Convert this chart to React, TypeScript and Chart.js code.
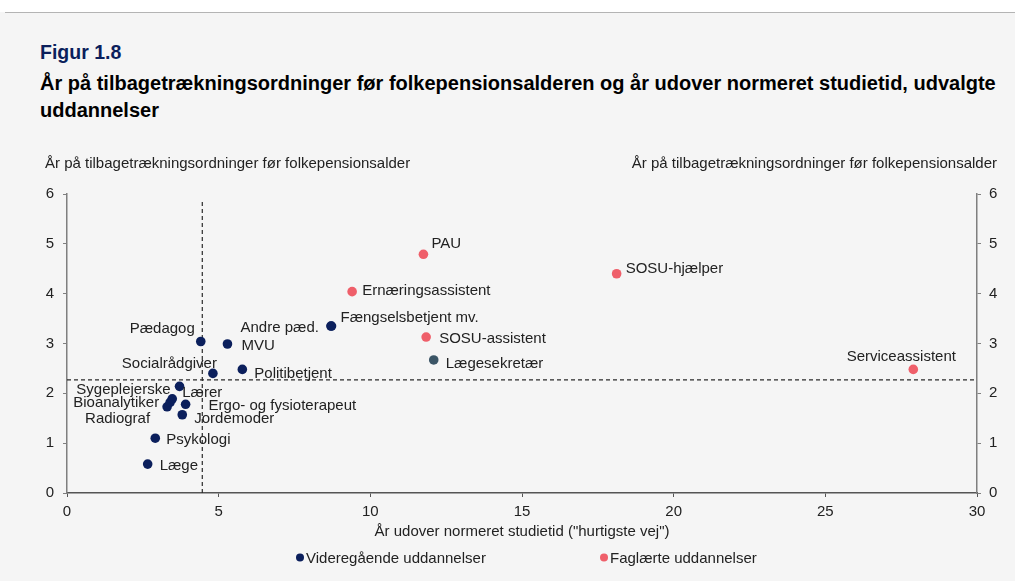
import React, { useEffect, useRef } from "react";
import { Chart, registerables } from "chart.js";

Chart.register(...registerables);

// ---------- data ----------
const vidNames = [
  "Læge", "Psykologi", "Radiograf", "Bioanalytiker", "Lærer", "Sygeplejerske",
  "Ergo- og fysioterapeut", "Jordemoder", "Pædagog", "MVU", "Socialrådgiver",
  "Politibetjent", "Andre pæd.", "Fængselsbetjent mv.", "Lægesekretær",
];
const vidX = [2.66, 2.91, 3.3, 3.4, 3.47, 3.71, 3.91, 3.8, 4.41, 5.29, 4.81, 5.78, 8.7, 8.72, 12.09];
const vidY = [0.58, 1.1, 1.73, 1.82, 1.89, 2.14, 1.78, 1.57, 3.04, 2.99, 2.4, 2.48, 3.35, 3.35, 2.67];

const fagNames = ["PAU", "Ernæringsassistent", "SOSU-assistent", "SOSU-hjælper", "Serviceassistent"];
const fagX = [11.75, 9.4, 11.84, 18.12, 27.9];
const fagY = [4.79, 4.04, 3.13, 4.4, 2.48];

const vLineX = [4.46, 4.46];
const vLineY = [0, 5.88];
const hLineX = [0, 30];
const hLineY = [2.27, 2.27];

const xTicks = [0, 5, 10, 15, 20, 25, 30];
const yTicks = [0, 1, 2, 3, 4, 5, 6];

const seriesNames = ["Videregående uddannelser", "Faglærte uddannelser"];
const titleText = "Figur 1.8";
const subtitleText =
  "År på tilbagetrækningsordninger før folkepensionsalderen og år udover normeret studietid, udvalgte uddannelser";
const yTitle = "År på tilbagetrækningsordninger før folkepensionsalder";
const xTitle = 'År udover normeret studietid ("hurtigste vej")';

// ---------- styles ----------
const NAVY = "#0b1f5c";
const CORAL = "#ef5f6a";
const SLATE = "#3b5566";
const FONT = "'Liberation Sans', Arial, sans-serif";
const TEXT = "#222222";
const FS = 15;
const LABEL_SHIFT = 1.5;

// label placement (dx, dy in px, alignment)
const labelPlacement: Record<string, [number, number, CanvasTextAlign]> = {
  "Læge": [12, 0, "left"],
  "Psykologi": [11, 0, "left"],
  "Radiograf": [-17, 11, "right"],
  "Bioanalytiker": [-11, -1, "right"],
  "Lærer": [10, -7, "left"],
  "Sygeplejerske": [-9, 2, "right"],
  "Ergo- og fysioterapeut": [23, 0, "left"],
  "Jordemoder": [12, 3, "left"],
  "Pædagog": [-6, -14, "right"],
  "MVU": [14, 0, "left"],
  "Socialrådgiver": [4, -11, "right"],
  "Politibetjent": [12, 3, "left"],
  "Andre pæd.": [-12, 0, "right"],
  "Fængselsbetjent mv.": [9, -10, "left"],
  "Lægesekretær": [12, 2, "left"],
  "PAU": [8, -12, "left"],
  "Ernæringsassistent": [10, -2, "left"],
  "SOSU-assistent": [13, 0, "left"],
  "SOSU-hjælper": [9, -6, "left"],
  "Serviceassistent": [-12, -14, "center"],
};

const textPlugin = {
  id: "customText",
  afterDatasetsDraw(chart: any) {
    const ctx = chart.ctx as CanvasRenderingContext2D;
    const xs = chart.scales.x;
    const ys = chart.scales.y;
    ctx.save();
    ctx.font = `${FS}px ${FONT}`;
    ctx.fillStyle = TEXT;
    ctx.textBaseline = "middle";
    const drawLabels = (names: string[], X: number[], Y: number[]) => {
      names.forEach((n, i) => {
        const p = labelPlacement[n] || [10, 0, "left"];
        ctx.textAlign = p[2];
        ctx.fillText(n, xs.getPixelForValue(X[i]) + p[0], ys.getPixelForValue(Y[i]) + p[1] + LABEL_SHIFT);
      });
    };
    drawLabels(vidNames, vidX, vidY);
    drawLabels(fagNames, fagX, fagY);

    // axis titles
    const ca = chart.chartArea;
    ctx.textAlign = "left";
    ctx.fillText(yTitle, 45, 163.5);
    ctx.textAlign = "right";
    ctx.fillText(yTitle, 997, 163.5);
    ctx.textAlign = "center";
    ctx.fillText(xTitle, (ca.left + ca.right) / 2, 532);

    // legend
    const legendItems = [
      { x: 300, color: NAVY, text: seriesNames[0] },
      { x: 604, color: CORAL, text: seriesNames[1] },
    ];
    legendItems.forEach((it) => {
      ctx.beginPath();
      ctx.fillStyle = it.color;
      ctx.arc(it.x, 557.5, 4, 0, Math.PI * 2);
      ctx.fill();
      ctx.fillStyle = TEXT;
      ctx.textAlign = "left";
      ctx.fillText(it.text, it.x + 6, 558.5);
    });
    ctx.restore();
  },
};

export default function App() {
  const ref = useRef<HTMLCanvasElement | null>(null);

  useEffect(() => {
    if (!ref.current) return;
    const vidColors = vidNames.map((n) => (n === "Lægesekretær" ? SLATE : NAVY));
    const axisColor = "#7f7f7f";
    const chart = new Chart(ref.current, {
      type: "scatter",
      data: {
        datasets: [
          {
            label: seriesNames[0],
            data: vidX.map((x, i) => ({ x, y: vidY[i] })),
            pointBackgroundColor: vidColors,
            backgroundColor: NAVY,
            pointBorderWidth: 0,
            pointRadius: 4.8,
            order: 1,
          },
          {
            label: seriesNames[1],
            data: fagX.map((x, i) => ({ x, y: fagY[i] })),
            pointBackgroundColor: CORAL,
            backgroundColor: CORAL,
            pointBorderWidth: 0,
            pointRadius: 4.8,
            order: 2,
          },
          {
            label: "v",
            data: vLineX.map((x, i) => ({ x, y: vLineY[i] })),
            showLine: true,
            pointRadius: 0,
            borderColor: "#2a2a2a",
            borderWidth: 1.2,
            borderDash: [4, 3],
            order: 10,
          },
          {
            label: "h",
            data: hLineX.map((x, i) => ({ x, y: hLineY[i] })),
            showLine: true,
            pointRadius: 0,
            borderColor: "#2a2a2a",
            borderWidth: 1.2,
            borderDash: [4, 3],
            order: 11,
          },
        ],
      },
      options: {
        responsive: false,
        animation: false,
        devicePixelRatio: 1,
        layout: { padding: { top: 194, left: 0, right: 0, bottom: 0 } },
        plugins: { legend: { display: false }, tooltip: { enabled: false } },
        scales: {
          x: {
            type: "linear",
            min: 0,
            max: 30,
            afterBuildTicks: (s: any) => { s.ticks = xTicks.map((v) => ({ value: v })); },
            ticks: { font: { size: FS, family: FONT }, color: TEXT, padding: 6, maxRotation: 0 },
            grid: { drawOnChartArea: false, drawTicks: true, tickLength: 4, color: "#555", lineWidth: 1 },
            border: { color: "#555", width: 1.5 },
            afterFit: (s: any) => { s.height = 88; },
          },
          y: {
            type: "linear",
            position: "left",
            min: 0,
            max: 6,
            afterBuildTicks: (s: any) => { s.ticks = yTicks.map((v) => ({ value: v })); },
            ticks: { font: { size: FS, family: FONT }, color: TEXT, padding: 9 },
            grid: { drawOnChartArea: false, drawTicks: true, tickLength: 4, color: axisColor },
            border: { color: axisColor, width: 1.5 },
            afterFit: (s: any) => { s.width = 67; },
          },
          y2: {
            type: "linear",
            position: "right",
            min: 0,
            max: 6,
            afterBuildTicks: (s: any) => { s.ticks = yTicks.map((v) => ({ value: v })); },
            ticks: { font: { size: FS, family: FONT }, color: TEXT, padding: 8 },
            grid: { drawOnChartArea: false, drawTicks: true, tickLength: 4, color: axisColor },
            border: { color: axisColor, width: 1.5 },
            afterFit: (s: any) => { s.width = 38; },
          },
        },
      },
      plugins: [textPlugin],
    } as any);
    return () => chart.destroy();
  }, []);

  return (
    <div
      style={{
        position: "fixed",
        top: 0,
        left: 0,
        width: 1015,
        height: 581,
        background: "#f5f5f5",
        overflow: "hidden",
        fontFamily: FONT,
      }}
    >
      <div style={{ position: "absolute", top: 0, left: 0, width: 1015, height: 12, background: "#ffffff" }} />
      <div style={{ position: "absolute", top: 12, left: 5, width: 1010, height: 1, background: "#b4b4b4" }} />
      <div
        style={{
          position: "absolute",
          top: 40,
          left: 40,
          fontSize: 19.5,
          fontWeight: "bold",
          color: "#0b1f5c",
          lineHeight: "24px",
          whiteSpace: "nowrap",
        }}
      >
        {titleText}
      </div>
      <div
        style={{
          position: "absolute",
          top: 70,
          left: 40,
          width: 970,
          fontSize: 20,
          fontWeight: "bold",
          color: "#000",
          lineHeight: "27px",
        }}
      >
        {subtitleText}
      </div>
      <canvas ref={ref} width={1015} height={581} style={{ position: "absolute", top: 0, left: 0, width: 1015, height: 581 }} />
    </div>
  );
}
